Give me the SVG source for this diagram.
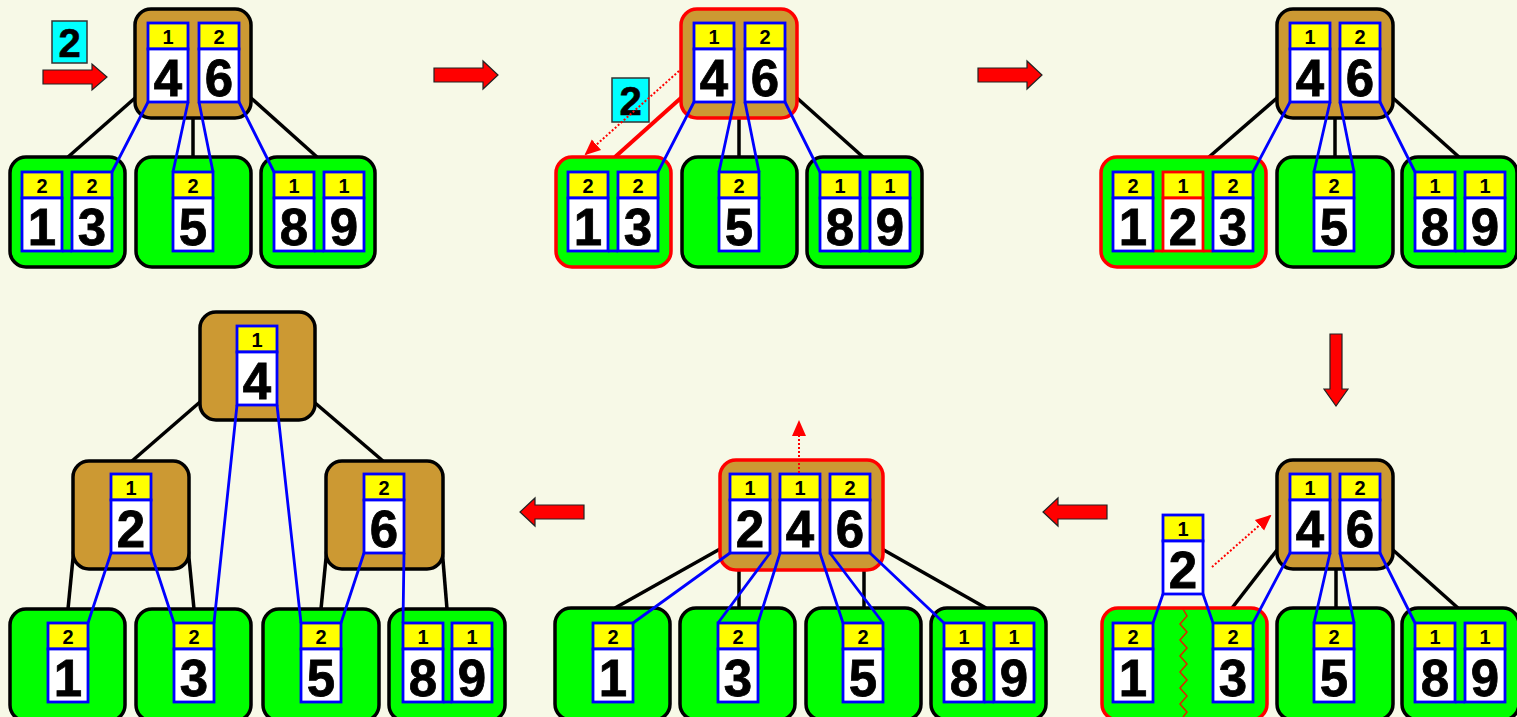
<svg xmlns="http://www.w3.org/2000/svg" width="1517" height="717" viewBox="0 0 1517 717">
<defs>
<style>
.br{fill:#CC9933;stroke:#000;stroke-width:3.5}
.gr{fill:#00FF00;stroke:#000;stroke-width:3.5}
.hl{stroke:#FF0000}
.ch{fill:#FFFF00;stroke:#0000FF;stroke-width:2.8}
.cb{fill:#FFFFFF;stroke:#0000FF;stroke-width:2.8}
.rc .ch,.rc .cb{stroke:#FF0000}
.hd{font-family:"Liberation Sans",Arial,sans-serif;font-weight:bold;font-size:20px;text-anchor:middle;fill:#000}
.dg{font-family:"Liberation Sans",Arial,sans-serif;font-weight:bold;font-size:51px;text-anchor:middle;fill:#000;stroke:#000;stroke-width:0.8}
.cy{fill:#00FFFF;stroke:#333;stroke-width:1.5}
.cyt{font-family:"Liberation Sans",Arial,sans-serif;font-weight:bold;font-size:40px;text-anchor:middle;fill:#000;stroke:#000;stroke-width:0.6}
.bl{stroke:#000;stroke-width:3.5;fill:none}
.rl{stroke:#FF0000;stroke-width:4;fill:none}
.bu{stroke:#0000FF;stroke-width:2.8;fill:none}
.jn{stroke:#0000FF;stroke-width:2.8}
.jr{stroke:#FF0000;stroke-width:2.8}
.dot{stroke:#FF0000;stroke-width:2;stroke-dasharray:2 2;fill:none;marker-end:url(#ah)}
.arr{fill:#FF0000;stroke:#222;stroke-width:1.2}
.zz{stroke:#DD2200;stroke-width:1.5;fill:none}
</style>
<marker id="ah" markerUnits="userSpaceOnUse" markerWidth="16" markerHeight="16" viewBox="0 0 16 16" refX="14" refY="8" orient="auto">
<path d="M0,1 L16,8 L0,15 Z" fill="#FF0000"/>
</marker>
</defs>
<rect x="0" y="0" width="1517" height="717" fill="#F7F9E7"/>

<!-- black tree edges (under nodes) -->
<g id="connectors">
<line class="bl" x1="135" y1="98" x2="68" y2="157"/>
<line class="bl" x1="193" y1="118" x2="193" y2="157"/>
<line class="bl" x1="251" y1="98" x2="317" y2="157"/>

<line class="rl" x1="682" y1="97" x2="615" y2="157"/>
<line class="bl" x1="739" y1="118" x2="739" y2="157"/>
<line class="bl" x1="797" y1="98" x2="863" y2="157"/>

<line class="bl" x1="1277" y1="98" x2="1209" y2="157"/>
<line class="bl" x1="1335" y1="118" x2="1335" y2="157"/>
<line class="bl" x1="1393" y1="98" x2="1459" y2="157"/>

<line class="bl" x1="1277" y1="550" x2="1232" y2="608"/>
<line class="bl" x1="1336" y1="569" x2="1336" y2="608"/>
<line class="bl" x1="1393" y1="550" x2="1458" y2="608"/>

<line class="bl" x1="720" y1="549" x2="615" y2="608"/>
<line class="bl" x1="739" y1="569" x2="739" y2="608"/>
<line class="bl" x1="864" y1="569" x2="864" y2="608"/>
<line class="bl" x1="882" y1="549" x2="986" y2="608"/>

<line class="bl" x1="200" y1="402" x2="132" y2="461"/>
<line class="bl" x1="314" y1="402" x2="383" y2="461"/>
<line class="bl" x1="74" y1="548" x2="68" y2="609"/>
<line class="bl" x1="188" y1="548" x2="194" y2="609"/>
<line class="bl" x1="327" y1="548" x2="321" y2="609"/>
<line class="bl" x1="442" y1="548" x2="447" y2="609"/>
</g>

<!-- Panel 1 -->
<g id="p1-root">
<rect class="br" x="135" y="9" width="116" height="109" rx="16"/>
<g transform="translate(148,23)"><rect class="ch" width="40" height="26"/><rect class="cb" y="26" width="40" height="53"/><text class="hd" x="20" y="21">1</text><text class="dg" x="20" y="73">4</text></g>
<g transform="translate(199,23)"><rect class="ch" width="40" height="26"/><rect class="cb" y="26" width="40" height="53"/><text class="hd" x="20" y="21">2</text><text class="dg" x="20" y="73">6</text></g>
</g>
<g id="p1-leaf1">
<rect class="gr" x="10" y="157" width="115" height="110" rx="16"/>
<line class="jn" x1="62" y1="251" x2="72" y2="251"/>
<g transform="translate(22,172)"><rect class="ch" width="40" height="26"/><rect class="cb" y="26" width="40" height="53"/><text class="hd" x="20" y="21">2</text><text class="dg" x="20" y="73">1</text></g>
<g transform="translate(72,172)"><rect class="ch" width="40" height="26"/><rect class="cb" y="26" width="40" height="53"/><text class="hd" x="20" y="21">2</text><text class="dg" x="20" y="73">3</text></g>
</g>
<g id="p1-leaf2">
<rect class="gr" x="136" y="157" width="115" height="110" rx="16"/>
<g transform="translate(173,172)"><rect class="ch" width="40" height="26"/><rect class="cb" y="26" width="40" height="53"/><text class="hd" x="20" y="21">2</text><text class="dg" x="20" y="73">5</text></g>
</g>
<g id="p1-leaf3">
<rect class="gr" x="261" y="157" width="114" height="110" rx="16"/>
<line class="jn" x1="314" y1="251" x2="324" y2="251"/>
<g transform="translate(274,172)"><rect class="ch" width="40" height="26"/><rect class="cb" y="26" width="40" height="53"/><text class="hd" x="20" y="21">1</text><text class="dg" x="20" y="73">8</text></g>
<g transform="translate(324,172)"><rect class="ch" width="40" height="26"/><rect class="cb" y="26" width="40" height="53"/><text class="hd" x="20" y="21">1</text><text class="dg" x="20" y="73">9</text></g>
</g>
<g id="p1-new">
<rect class="cy" x="52" y="21" width="35" height="42"/>
<text class="cyt" x="69.5" y="57">2</text>
</g>

<!-- Panel 2 -->
<g id="p2-root">
<rect class="br hl" x="681" y="9" width="116" height="109" rx="16"/>
<g transform="translate(694,23)"><rect class="ch" width="40" height="26"/><rect class="cb" y="26" width="40" height="53"/><text class="hd" x="20" y="21">1</text><text class="dg" x="20" y="73">4</text></g>
<g transform="translate(745,23)"><rect class="ch" width="40" height="26"/><rect class="cb" y="26" width="40" height="53"/><text class="hd" x="20" y="21">2</text><text class="dg" x="20" y="73">6</text></g>
</g>
<g id="p2-leaf1">
<rect class="gr hl" x="556" y="157" width="115" height="110" rx="16"/>
<line class="jn" x1="608" y1="251" x2="618" y2="251"/>
<g transform="translate(568,172)"><rect class="ch" width="40" height="26"/><rect class="cb" y="26" width="40" height="53"/><text class="hd" x="20" y="21">2</text><text class="dg" x="20" y="73">1</text></g>
<g transform="translate(618,172)"><rect class="ch" width="40" height="26"/><rect class="cb" y="26" width="40" height="53"/><text class="hd" x="20" y="21">2</text><text class="dg" x="20" y="73">3</text></g>
</g>
<g id="p2-leaf2">
<rect class="gr" x="682" y="157" width="115" height="110" rx="16"/>
<g transform="translate(719,172)"><rect class="ch" width="40" height="26"/><rect class="cb" y="26" width="40" height="53"/><text class="hd" x="20" y="21">2</text><text class="dg" x="20" y="73">5</text></g>
</g>
<g id="p2-leaf3">
<rect class="gr" x="807" y="157" width="115" height="110" rx="16"/>
<line class="jn" x1="860" y1="251" x2="870" y2="251"/>
<g transform="translate(820,172)"><rect class="ch" width="40" height="26"/><rect class="cb" y="26" width="40" height="53"/><text class="hd" x="20" y="21">1</text><text class="dg" x="20" y="73">8</text></g>
<g transform="translate(870,172)"><rect class="ch" width="40" height="26"/><rect class="cb" y="26" width="40" height="53"/><text class="hd" x="20" y="21">1</text><text class="dg" x="20" y="73">9</text></g>
</g>
<g id="p2-new">
<rect class="cy" x="612" y="78" width="37" height="44"/>
<text class="cyt" x="630.5" y="115">2</text>
</g>

<!-- Panel 3 -->
<g id="p3-root">
<rect class="br" x="1277" y="9" width="116" height="109" rx="16"/>
<g transform="translate(1290,23)"><rect class="ch" width="40" height="26"/><rect class="cb" y="26" width="40" height="53"/><text class="hd" x="20" y="21">1</text><text class="dg" x="20" y="73">4</text></g>
<g transform="translate(1340,23)"><rect class="ch" width="40" height="26"/><rect class="cb" y="26" width="40" height="53"/><text class="hd" x="20" y="21">2</text><text class="dg" x="20" y="73">6</text></g>
</g>
<g id="p3-leaf1">
<rect class="gr hl" x="1101" y="157" width="165" height="110" rx="16"/>
<line class="jr" x1="1153" y1="251" x2="1163" y2="251"/>
<line class="jr" x1="1203" y1="251" x2="1213" y2="251"/>
<g transform="translate(1113,172)"><rect class="ch" width="40" height="26"/><rect class="cb" y="26" width="40" height="53"/><text class="hd" x="20" y="21">2</text><text class="dg" x="20" y="73">1</text></g>
<g class="rc" transform="translate(1163,172)"><rect class="ch" width="40" height="26"/><rect class="cb" y="26" width="40" height="53"/><text class="hd" x="20" y="21">1</text><text class="dg" x="20" y="73">2</text></g>
<g transform="translate(1213,172)"><rect class="ch" width="40" height="26"/><rect class="cb" y="26" width="40" height="53"/><text class="hd" x="20" y="21">2</text><text class="dg" x="20" y="73">3</text></g>
</g>
<g id="p3-leaf2">
<rect class="gr" x="1277" y="157" width="116" height="110" rx="16"/>
<g transform="translate(1314,172)"><rect class="ch" width="40" height="26"/><rect class="cb" y="26" width="40" height="53"/><text class="hd" x="20" y="21">2</text><text class="dg" x="20" y="73">5</text></g>
</g>
<g id="p3-leaf3">
<rect class="gr" x="1402" y="157" width="115" height="110" rx="16"/>
<line class="jn" x1="1455" y1="251" x2="1465" y2="251"/>
<g transform="translate(1415,172)"><rect class="ch" width="40" height="26"/><rect class="cb" y="26" width="40" height="53"/><text class="hd" x="20" y="21">1</text><text class="dg" x="20" y="73">8</text></g>
<g transform="translate(1465,172)"><rect class="ch" width="40" height="26"/><rect class="cb" y="26" width="40" height="53"/><text class="hd" x="20" y="21">1</text><text class="dg" x="20" y="73">9</text></g>
</g>

<!-- Panel 4 -->
<g id="p4-root">
<rect class="br" x="1277" y="460" width="116" height="109" rx="16"/>
<g transform="translate(1290,474)"><rect class="ch" width="40" height="26"/><rect class="cb" y="26" width="40" height="53"/><text class="hd" x="20" y="21">1</text><text class="dg" x="20" y="73">4</text></g>
<g transform="translate(1340,474)"><rect class="ch" width="40" height="26"/><rect class="cb" y="26" width="40" height="53"/><text class="hd" x="20" y="21">2</text><text class="dg" x="20" y="73">6</text></g>
</g>
<g id="p4-leaf1">
<rect class="gr hl" x="1102" y="608" width="165" height="112" rx="16"/>
<path class="zz" d="M1183,609 L1187,616 L1180,624 L1187,632 L1180,640 L1187,648 L1180,656 L1187,664 L1180,672 L1187,680 L1180,688 L1187,696 L1180,704 L1187,712 L1183,717"/>
<g transform="translate(1113,623)"><rect class="ch" width="40" height="26"/><rect class="cb" y="26" width="40" height="53"/><text class="hd" x="20" y="21">2</text><text class="dg" x="20" y="73">1</text></g>
<g transform="translate(1213,623)"><rect class="ch" width="40" height="26"/><rect class="cb" y="26" width="40" height="53"/><text class="hd" x="20" y="21">2</text><text class="dg" x="20" y="73">3</text></g>
</g>
<g id="p4-leaf2">
<rect class="gr" x="1277" y="608" width="116" height="112" rx="16"/>
<g transform="translate(1314,623)"><rect class="ch" width="40" height="26"/><rect class="cb" y="26" width="40" height="53"/><text class="hd" x="20" y="21">2</text><text class="dg" x="20" y="73">5</text></g>
</g>
<g id="p4-leaf3">
<rect class="gr" x="1402" y="608" width="117" height="112" rx="16"/>
<line class="jn" x1="1455" y1="702" x2="1465" y2="702"/>
<g transform="translate(1415,623)"><rect class="ch" width="40" height="26"/><rect class="cb" y="26" width="40" height="53"/><text class="hd" x="20" y="21">1</text><text class="dg" x="20" y="73">8</text></g>
<g transform="translate(1465,623)"><rect class="ch" width="40" height="26"/><rect class="cb" y="26" width="40" height="53"/><text class="hd" x="20" y="21">1</text><text class="dg" x="20" y="73">9</text></g>
</g>
<g id="p4-up">
<g transform="translate(1163,515)"><rect class="ch" width="40" height="26"/><rect class="cb" y="26" width="40" height="53"/><text class="hd" x="20" y="21">1</text><text class="dg" x="20" y="73">2</text></g>
</g>

<!-- Panel 5 -->
<g id="p5-root">
<rect class="br hl" x="720" y="460" width="163" height="110" rx="16"/>
<g transform="translate(730,474)"><rect class="ch" width="40" height="26"/><rect class="cb" y="26" width="40" height="53"/><text class="hd" x="20" y="21">1</text><text class="dg" x="20" y="73">2</text></g>
<g transform="translate(780,474)"><rect class="ch" width="40" height="26"/><rect class="cb" y="26" width="40" height="53"/><text class="hd" x="20" y="21">1</text><text class="dg" x="20" y="73">4</text></g>
<g transform="translate(830,474)"><rect class="ch" width="40" height="26"/><rect class="cb" y="26" width="40" height="53"/><text class="hd" x="20" y="21">2</text><text class="dg" x="20" y="73">6</text></g>
</g>
<g id="p5-leaf1">
<rect class="gr" x="555" y="608" width="115" height="112" rx="16"/>
<g transform="translate(593,623)"><rect class="ch" width="40" height="26"/><rect class="cb" y="26" width="40" height="53"/><text class="hd" x="20" y="21">2</text><text class="dg" x="20" y="73">1</text></g>
</g>
<g id="p5-leaf2">
<rect class="gr" x="680" y="608" width="115" height="112" rx="16"/>
<g transform="translate(718,623)"><rect class="ch" width="40" height="26"/><rect class="cb" y="26" width="40" height="53"/><text class="hd" x="20" y="21">2</text><text class="dg" x="20" y="73">3</text></g>
</g>
<g id="p5-leaf3">
<rect class="gr" x="806" y="608" width="115" height="112" rx="16"/>
<g transform="translate(843,623)"><rect class="ch" width="40" height="26"/><rect class="cb" y="26" width="40" height="53"/><text class="hd" x="20" y="21">2</text><text class="dg" x="20" y="73">5</text></g>
</g>
<g id="p5-leaf4">
<rect class="gr" x="931" y="608" width="115" height="112" rx="16"/>
<line class="jn" x1="984" y1="702" x2="994" y2="702"/>
<g transform="translate(944,623)"><rect class="ch" width="40" height="26"/><rect class="cb" y="26" width="40" height="53"/><text class="hd" x="20" y="21">1</text><text class="dg" x="20" y="73">8</text></g>
<g transform="translate(994,623)"><rect class="ch" width="40" height="26"/><rect class="cb" y="26" width="40" height="53"/><text class="hd" x="20" y="21">1</text><text class="dg" x="20" y="73">9</text></g>
</g>

<!-- Panel 6 -->
<g id="p6-root">
<rect class="br" x="200" y="312" width="115" height="108" rx="16"/>
<g transform="translate(237,326)"><rect class="ch" width="40" height="26"/><rect class="cb" y="26" width="40" height="53"/><text class="hd" x="20" y="21">1</text><text class="dg" x="20" y="73">4</text></g>
</g>
<g id="p6-mid1">
<rect class="br" x="73" y="461" width="116" height="108" rx="16"/>
<g transform="translate(111,474)"><rect class="ch" width="40" height="26"/><rect class="cb" y="26" width="40" height="53"/><text class="hd" x="20" y="21">1</text><text class="dg" x="20" y="73">2</text></g>
</g>
<g id="p6-mid2">
<rect class="br" x="326" y="461" width="117" height="108" rx="16"/>
<g transform="translate(364,474)"><rect class="ch" width="40" height="26"/><rect class="cb" y="26" width="40" height="53"/><text class="hd" x="20" y="21">2</text><text class="dg" x="20" y="73">6</text></g>
</g>
<g id="p6-leaf1">
<rect class="gr" x="10" y="609" width="115" height="112" rx="16"/>
<g transform="translate(48,623)"><rect class="ch" width="40" height="26"/><rect class="cb" y="26" width="40" height="53"/><text class="hd" x="20" y="21">2</text><text class="dg" x="20" y="73">1</text></g>
</g>
<g id="p6-leaf2">
<rect class="gr" x="136" y="609" width="115" height="112" rx="16"/>
<g transform="translate(174,623)"><rect class="ch" width="40" height="26"/><rect class="cb" y="26" width="40" height="53"/><text class="hd" x="20" y="21">2</text><text class="dg" x="20" y="73">3</text></g>
</g>
<g id="p6-leaf3">
<rect class="gr" x="263" y="609" width="116" height="112" rx="16"/>
<g transform="translate(301,623)"><rect class="ch" width="40" height="26"/><rect class="cb" y="26" width="40" height="53"/><text class="hd" x="20" y="21">2</text><text class="dg" x="20" y="73">5</text></g>
</g>
<g id="p6-leaf4">
<rect class="gr" x="389" y="609" width="116" height="112" rx="16"/>
<line class="jn" x1="443" y1="702" x2="452" y2="702"/>
<g transform="translate(403,623)"><rect class="ch" width="40" height="26"/><rect class="cb" y="26" width="40" height="53"/><text class="hd" x="20" y="21">1</text><text class="dg" x="20" y="73">8</text></g>
<g transform="translate(452,623)"><rect class="ch" width="40" height="26"/><rect class="cb" y="26" width="40" height="53"/><text class="hd" x="20" y="21">1</text><text class="dg" x="20" y="73">9</text></g>
</g>

<!-- blue key pointers (over nodes) -->
<g id="pointers">
<path class="bu" d="M148,102 L112,172 M188,102 L173,172 M199,102 L213,172 M239,102 L274,172"/>
<path class="bu" d="M694,102 L658,172 M734,102 L719,172 M745,102 L759,172 M785,102 L820,172"/>
<path class="bu" d="M1290,102 L1253,172 M1330,102 L1314,172 M1340,102 L1354,172 M1380,102 L1415,172"/>
<path class="bu" d="M1290,553 L1253,623 M1330,553 L1314,623 M1340,553 L1354,623 M1380,553 L1415,623 M1163,594 L1153,623 M1203,594 L1213,623"/>
<path class="bu" d="M730,553 L633,623 M770,553 L718,623 M780,553 L758,623 M820,553 L843,623 M830,553 L883,623 M870,553 L944,623"/>
<path class="bu" d="M237,405 L214,623 M277,405 L301,623 M111,553 L88,623 M151,553 L174,623 M364,553 L341,623 M404,553 L403,623"/>
</g>

<!-- red dotted moves -->
<g id="moves">
<line class="dot" x1="679" y1="71" x2="586" y2="154"/>
<line class="dot" x1="1212" y1="567" x2="1270" y2="516"/>
<line class="dot" x1="799" y1="473" x2="799" y2="422"/>
</g>

<!-- step arrows -->
<g id="steps">
<path class="arr" d="M43,70 L92,70 L92,64 L107,77 L92,90 L92,84 L43,84 Z"/>
<path class="arr" d="M434,68 L483,68 L483,61 L498,75 L483,89 L483,82 L434,82 Z"/>
<path class="arr" d="M978,68 L1027,68 L1027,61 L1042,75 L1027,89 L1027,82 L978,82 Z"/>
<path class="arr" d="M1330,334 L1342,334 L1342,389 L1348,389 L1336,406 L1324,389 L1330,389 Z"/>
<path class="arr" d="M1107,505 L1058,505 L1058,498 L1043,512 L1058,526 L1058,519 L1107,519 Z"/>
<path class="arr" d="M584,505 L535,505 L535,498 L520,512 L535,526 L535,519 L584,519 Z"/>
</g>
</svg>
